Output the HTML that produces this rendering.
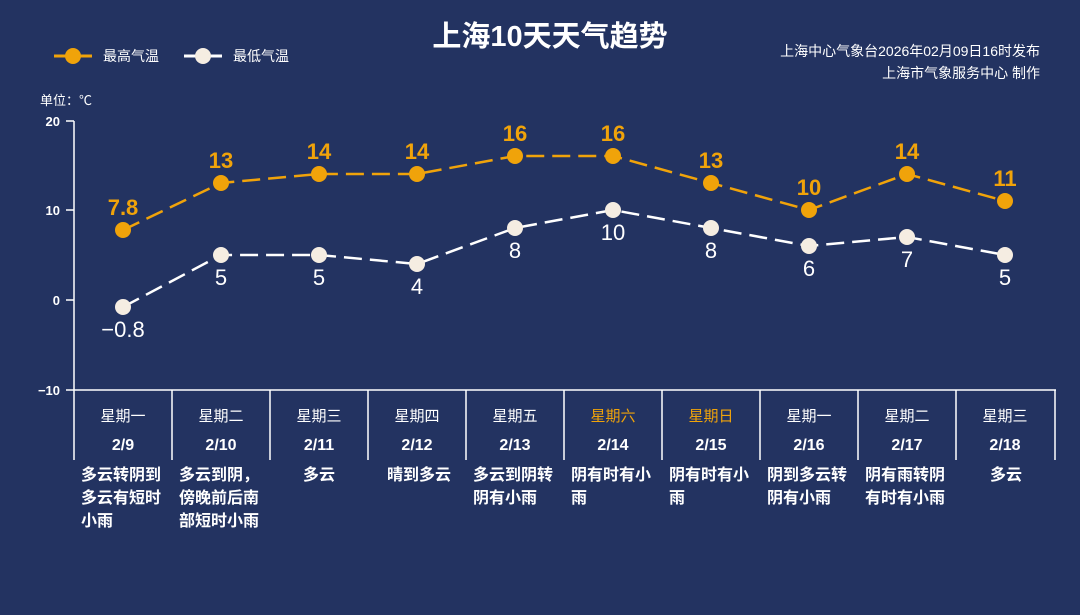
<!DOCTYPE html>
<html><head><meta charset="utf-8"><style>
body{margin:0;width:1080px;height:610px;background:#233361;overflow:hidden;font-family:"Liberation Sans","Noto Sans CJK SC",sans-serif;}
svg text{font-family:"Liberation Sans","Noto Sans CJK SC",sans-serif;}
</style></head><body>
<svg width="1080" height="610" viewBox="0 0 1080 610">
<rect width="1080" height="610" fill="#233361"/>
<text x="550" y="46" fill="#fff" font-size="29" font-weight="bold" text-anchor="middle">上海10天天气趋势</text>
<text x="1040" y="56" fill="#fff" font-size="14" text-anchor="end">上海中心气象台2026年02月09日16时发布</text>
<text x="1040" y="78" fill="#fff" font-size="14" text-anchor="end">上海市气象服务中心  制作</text>
<line x1="54" y1="56" x2="92" y2="56" stroke="#f0a30a" stroke-width="3"/><circle cx="73" cy="56" r="8" fill="#f0a30a"/>
<text x="103" y="61" fill="#fff" font-size="14">最高气温</text>
<line x1="184" y1="56" x2="222" y2="56" stroke="#fff" stroke-width="3"/><circle cx="203" cy="56" r="8" fill="#f5ede2"/>
<text x="233" y="61" fill="#fff" font-size="14">最低气温</text>
<text x="40" y="105" fill="#fff" font-size="13">单位：℃</text>
<g stroke="#fff" stroke-width="1.5">
<line x1="74" y1="121" x2="74" y2="460"/>
<line x1="74" y1="390" x2="1056" y2="390"/>
<line x1="66" y1="121" x2="74" y2="121"/><line x1="66" y1="210" x2="74" y2="210"/><line x1="66" y1="300" x2="74" y2="300"/><line x1="66" y1="390" x2="74" y2="390"/>
<line x1="172" y1="390" x2="172" y2="460"/><line x1="270" y1="390" x2="270" y2="460"/><line x1="368" y1="390" x2="368" y2="460"/><line x1="466" y1="390" x2="466" y2="460"/><line x1="564" y1="390" x2="564" y2="460"/><line x1="662" y1="390" x2="662" y2="460"/><line x1="760" y1="390" x2="760" y2="460"/><line x1="858" y1="390" x2="858" y2="460"/><line x1="956" y1="390" x2="956" y2="460"/><line x1="1055" y1="390" x2="1055" y2="460"/>
</g>
<g fill="#fff" font-size="13" font-weight="bold" text-anchor="end">
<text x="60" y="126">20</text><text x="60" y="215">10</text><text x="60" y="305">0</text><text x="60" y="395">−10</text>
</g>
<polyline points="123,230 221,183 319,174 417,174 515,156 613,156 711,183 809,210 907,174 1005,201" fill="none" stroke="#f0a30a" stroke-width="2.5" stroke-dasharray="18,8"/>
<polyline points="123,307 221,255 319,255 417,264 515,228 613,210 711,228 809,246 907,237 1005,255" fill="none" stroke="#fff" stroke-width="2.5" stroke-dasharray="18,8"/>
<g fill="#f0a30a"><circle cx="123" cy="230" r="8"/><circle cx="221" cy="183" r="8"/><circle cx="319" cy="174" r="8"/><circle cx="417" cy="174" r="8"/><circle cx="515" cy="156" r="8"/><circle cx="613" cy="156" r="8"/><circle cx="711" cy="183" r="8"/><circle cx="809" cy="210" r="8"/><circle cx="907" cy="174" r="8"/><circle cx="1005" cy="201" r="8"/></g>
<g fill="#f5ede2"><circle cx="123" cy="307" r="8"/><circle cx="221" cy="255" r="8"/><circle cx="319" cy="255" r="8"/><circle cx="417" cy="264" r="8"/><circle cx="515" cy="228" r="8"/><circle cx="613" cy="210" r="8"/><circle cx="711" cy="228" r="8"/><circle cx="809" cy="246" r="8"/><circle cx="907" cy="237" r="8"/><circle cx="1005" cy="255" r="8"/></g>
<g fill="#f0a30a" font-size="22" font-weight="bold" text-anchor="middle">
<text x="123" y="215">7.8</text><text x="221" y="168">13</text><text x="319" y="159">14</text><text x="417" y="159">14</text><text x="515" y="141">16</text><text x="613" y="141">16</text><text x="711" y="168">13</text><text x="809" y="195">10</text><text x="907" y="159">14</text><text x="1005" y="186">11</text>
</g>
<g fill="#fff" font-size="22" text-anchor="middle">
<text x="123" y="337">−0.8</text><text x="221" y="285">5</text><text x="319" y="285">5</text><text x="417" y="294">4</text><text x="515" y="258">8</text><text x="613" y="240">10</text><text x="711" y="258">8</text><text x="809" y="276">6</text><text x="907" y="267">7</text><text x="1005" y="285">5</text>
</g>
<g fill="#fff" font-size="15" text-anchor="middle">
<text x="123" y="421">星期一</text><text x="221" y="421">星期二</text><text x="319" y="421">星期三</text><text x="417" y="421">星期四</text><text x="515" y="421">星期五</text><text x="613" y="421" fill="#f0a30a">星期六</text><text x="711" y="421" fill="#f0a30a">星期日</text><text x="809" y="421">星期一</text><text x="907" y="421">星期二</text><text x="1005" y="421">星期三</text>
</g>
<g fill="#fff" font-size="16" font-weight="bold" text-anchor="middle">
<text x="123" y="450">2/9</text><text x="221" y="450">2/10</text><text x="319" y="450">2/11</text><text x="417" y="450">2/12</text><text x="515" y="450">2/13</text><text x="613" y="450">2/14</text><text x="711" y="450">2/15</text><text x="809" y="450">2/16</text><text x="907" y="450">2/17</text><text x="1005" y="450">2/18</text>
</g>
<g fill="#fff" font-size="16" font-weight="bold">
<text x="81" y="480">多云转阴到</text><text x="81" y="503">多云有短时</text><text x="81" y="526">小雨</text>
<text x="179" y="480">多云到阴，</text><text x="179" y="503">傍晚前后南</text><text x="179" y="526">部短时小雨</text>
<text x="319" y="480" text-anchor="middle">多云</text>
<text x="419" y="480" text-anchor="middle">晴到多云</text>
<text x="473" y="480">多云到阴转</text><text x="473" y="503">阴有小雨</text>
<text x="571" y="480">阴有时有小</text><text x="571" y="503">雨</text>
<text x="669" y="480">阴有时有小</text><text x="669" y="503">雨</text>
<text x="767" y="480">阴到多云转</text><text x="767" y="503">阴有小雨</text>
<text x="865" y="480">阴有雨转阴</text><text x="865" y="503">有时有小雨</text>
<text x="1006" y="480" text-anchor="middle">多云</text>
</g>
</svg>
</body></html>
